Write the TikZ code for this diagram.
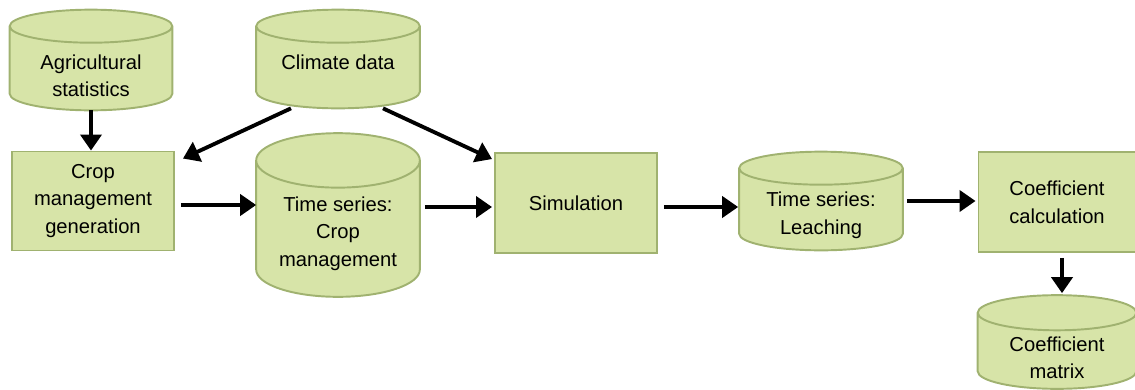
\documentclass[tikz,border=0pt]{standalone}
\usepackage{fontspec}
\setmainfont{Liberation Sans}
\usetikzlibrary{arrows.meta,calc,backgrounds}
\definecolor{boxfill}{RGB}{215,228,168}
\definecolor{boxline}{RGB}{160,178,112}

% cylinder outline round a node: #1 node, #2 radius of the end ellipses
\newcommand\drawstore[2]{%
  \draw[storeline] let \p1=(#1.north west), \p2=(#1.south east), \n1={(\x2-\x1)/2} in
    (\x1,\y1-#2) -- (\x1,\y2+#2) arc[start angle=180, end angle=360, x radius=\n1, y radius=#2]
    -- (\x2,\y1-#2) arc[start angle=0, end angle=180, x radius=\n1, y radius=#2] -- cycle
    (\x1,\y1-#2) arc[start angle=180, end angle=360, x radius=\n1, y radius=#2];
}

\begin{document}
\begin{tikzpicture}[x=0.02cm,y=-0.02cm,
  font=\fontsize{11.5}{15.7}\selectfont,
  proc/.style={rectangle, draw=boxline, fill=boxfill, line width=1.1pt, align=center},
  store/.style={rectangle, inner sep=0pt},
  storeline/.style={draw=boxline, fill=boxfill, line width=1.1pt},
  inner/.style={align=center},
  flow/.style={-{Triangle[length=0.32cm,width=0.42cm]}, line width=2.2pt}]
\useasboundingbox (0,0) rectangle (1135,389);

\node at (91,60) [store, minimum width=3.24cm, minimum height=2cm,
  label={[inner, yshift=-9pt]center:Agricultural\\statistics}] (agri) {};
\node at (338,59) [store, minimum width=3.26cm, minimum height=1.96cm,
  label={[inner, yshift=-2pt]center:Climate data}] (clim) {};
\node at (93,201) [proc, minimum width=3.24cm, minimum height=1.98cm] (gen) {Crop\\management\\generation};
\node at (338,215) [store, minimum width=3.26cm, minimum height=3.26cm,
  label={[inner, yshift=-10.5pt]center:Time series:\\Crop\\management}] (tscrop) {};
\node at (576,203) [proc, minimum width=3.24cm, minimum height=2cm] (sim) {Simulation};
\node at (821,201) [store, minimum width=3.26cm, minimum height=1.96cm,
  label={[inner, yshift=-8pt]center:Time series:\\Leaching}] (leach) {};
\node at (1057,202) [proc, minimum width=3.14cm, minimum height=2cm] (coef) {Coefficient\\calculation};
\node at (1057,342) [store, minimum width=3.16cm, minimum height=1.86cm,
  label={[inner, yshift=-9pt]center:Coefficient\\matrix}] (matrix) {};

\begin{scope}[on background layer]
\drawstore{agri}{9.4pt}
\drawstore{clim}{9.4pt}
\drawstore{tscrop}{15.5pt}
\drawstore{leach}{9.4pt}
\drawstore{matrix}{10pt}
\end{scope}

\draw[flow] (agri.south) -- (agri.south |- gen.north);
\draw[flow] ($(clim.south)+(-47,0)$) -- ($(gen.north east)+(8,8)$);
\draw[flow] ($(clim.south)+(45,0)$) -- ($(sim.north west)+(-2,7)$);
\draw[flow] ($(gen.east)+(6,4)$) -- ($(gen.east -| tscrop.west)+(0,4)$);
\draw[flow] ($(sim.west -| tscrop.east)+(5,4)$) -- ($(sim.west)+(-2,4)$);
\draw[flow] ($(sim.east)+(6,4)$) -- ($(sim.east -| leach.west)+(-1,4)$);
\draw[flow] ($(leach.east)+(4,0)$) -- ($(coef.west |- leach.east)+(-2,0)$);
\draw[flow] ($(coef.south)+(5,5)$) -- ($(matrix.north)+(5,-2)$);

\end{tikzpicture}
\end{document}
